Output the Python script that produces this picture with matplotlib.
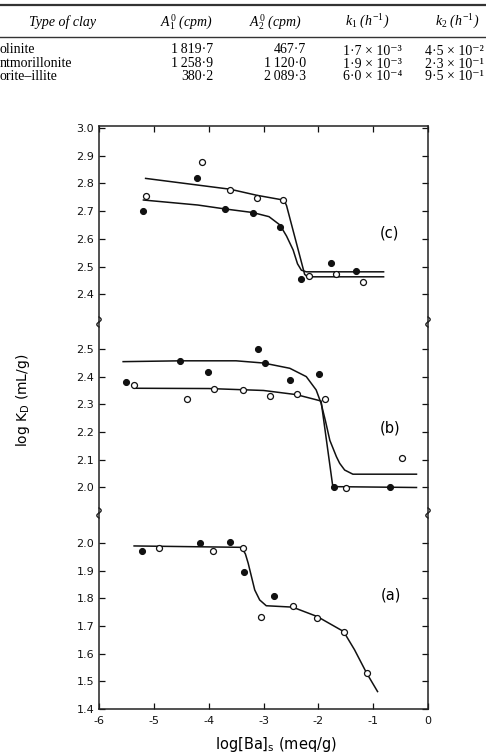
import matplotlib
matplotlib.use("Agg")
import matplotlib.pyplot as plt
import numpy as np
from matplotlib.lines import Line2D

plt.rcParams['axes.unicode_minus'] = False
plt.rcParams['mathtext.fontset'] = 'custom'
plt.rcParams['mathtext.rm'] = 'Liberation Serif'
plt.rcParams['mathtext.it'] = 'Liberation Serif:italic'
plt.rcParams['mathtext.sf'] = 'DejaVu Sans'

# ---------------- table data (top, partially cropped) ----------------
clay_names = ["olinite", "ntmorillonite", "orite\u2013illite"]
A1_values = ["1\u2009819\u00b77", "1\u2009258\u00b79", "380\u00b72"]
A2_values = ["467\u00b77", "1\u2009120\u00b70", "2\u2009089\u00b73"]
k1_values = ["1\u00b77 \u00d7 10\u207b\u00b3", "1\u00b79 \u00d7 10\u207b\u00b3", "6\u00b70 \u00d7 10\u207b\u2074"]
k2_values = ["4\u00b75 \u00d7 10\u207b\u00b2", "2\u00b73 \u00d7 10\u207b\u00b9", "9\u00b75 \u00d7 10\u207b\u00b9"]
headers = ["Type of clay", r"$A^0_{\mathit{1}}$ (cpm)", r"$A^0_{\mathit{2}}$ (cpm)",
           r"$k_{\mathit{1}}$ ($h^{-\mathit{1}}$)", r"$k_{\mathit{2}}$ ($h^{-\mathit{1}}$)"]

# ---------------- panel (c) ----------------
c_open_x = [-5.15, -4.13, -3.61, -3.12, -2.64, -2.17, -1.68, -1.18]
c_open_y = [2.755, 2.876, 2.776, 2.746, 2.740, 2.466, 2.472, 2.444]
c_fill_x = [-5.19, -4.22, -3.71, -3.20, -2.70, -2.31, -1.76, -1.31]
c_fill_y = [2.700, 2.818, 2.708, 2.692, 2.644, 2.455, 2.513, 2.483]
c_open_fit_x = [-5.15, -3.61, -3.12, -2.64, -2.61, -2.58, -2.25, -2.20, -0.81]
c_open_fit_y = [2.818, 2.779, 2.757, 2.740, 2.733, 2.720, 2.472, 2.463, 2.463]
c_fill_fit_x = [-5.19, -4.20, -3.71, -3.20, -2.90, -2.70, -2.58, -2.46, -2.38, -2.31, -2.22, -0.81]
c_fill_fit_y = [2.740, 2.722, 2.708, 2.695, 2.680, 2.650, 2.610, 2.560, 2.510, 2.487, 2.481, 2.481]

# ---------------- panel (b) ----------------
b_open_x = [-5.36, -4.40, -3.90, -3.38, -2.89, -2.38, -1.88, -1.49, -0.47]
b_open_y = [2.368, 2.320, 2.356, 2.350, 2.330, 2.339, 2.320, 1.997, 2.108]
b_fill_x = [-5.51, -4.52, -4.01, -3.10, -2.98, -2.51, -1.99, -1.72, -0.69]
b_fill_y = [2.382, 2.458, 2.417, 2.500, 2.448, 2.388, 2.410, 2.001, 2.003]
b_fit1_x = [-5.56, -4.50, -3.50, -3.00, -2.52, -2.22, -2.04, -1.95, -1.87, -1.79, -1.67, -1.61, -1.52, -1.37, -0.21]
b_fit1_y = [2.454, 2.457, 2.457, 2.449, 2.430, 2.400, 2.352, 2.304, 2.240, 2.170, 2.111, 2.087, 2.063, 2.048, 2.048]
b_fit2_x = [-5.36, -4.00, -3.00, -2.40, -1.95, -1.74, -1.68, -0.21]
b_fit2_y = [2.358, 2.357, 2.350, 2.335, 2.312, 2.009, 2.003, 2.000]

# ---------------- panel (a) ----------------
a_open_x = [-4.91, -3.92, -3.38, -3.04, -2.47, -2.02, -1.54, -1.12]
a_open_y = [1.983, 1.969, 1.981, 1.733, 1.773, 1.729, 1.678, 1.530]
a_fill_x = [-5.21, -4.15, -3.61, -3.35, -2.81]
a_fill_y = [1.971, 1.999, 2.004, 1.896, 1.808]
a_fit_x = [-5.36, -3.40, -3.33, -3.28, -3.16, -3.07, -2.95, -2.47, -2.02, -1.54, -1.34, -1.12, -0.92]
a_fit_y = [1.989, 1.984, 1.960, 1.927, 1.830, 1.794, 1.773, 1.768, 1.734, 1.680, 1.614, 1.530, 1.463]

x_ticks = [-6, -5, -4, -3, -2, -1, 0]
x_ticklabels = ["-6", "-5", "-4", "-3", "-2", "-1", "0"]

W, H = 486, 753
fig = plt.figure(figsize=(W / 100, H / 100), dpi=100)

def fx(px):
    return px / W

def fy(py):
    return 1 - py / H

# ---------------- draw table ----------------
serif = ['Liberation Serif', 'DejaVu Serif']
tfs = 10
fig.add_artist(Line2D([0, 1], [fy(4.5), fy(4.5)], color='#333333', lw=1.6))
fig.add_artist(Line2D([0, 1], [fy(37), fy(37)], color='#333333', lw=1.0))
hdr_x = [62, 186, 275, 367, 457]
for hx, h in zip(hdr_x, headers):
    fig.text(fx(hx), fy(22), h, ha='center', va='center', family=serif,
             style='italic', fontsize=tfs)

base_y = 80.5  # baseline of last table row
ls_plain = 1.07
ls_sup = 0.98
fig.text(fx(0), fy(base_y), "\n".join(clay_names), ha='left', va='baseline',
         multialignment='left', family=serif, fontsize=tfs, linespacing=ls_plain)
fig.text(fx(213), fy(base_y), "\n".join(A1_values), ha='right', va='baseline',
         multialignment='right', family=serif, fontsize=tfs, linespacing=ls_plain)
fig.text(fx(306), fy(base_y), "\n".join(A2_values), ha='right', va='baseline',
         multialignment='right', family=serif, fontsize=tfs, linespacing=ls_plain)
fig.text(fx(343), fy(base_y), "\n".join(k1_values), ha='left', va='baseline',
         multialignment='left', family=serif, fontsize=tfs, linespacing=ls_sup)
fig.text(fx(425), fy(base_y), "\n".join(k2_values), ha='left', va='baseline',
         multialignment='left', family=serif, fontsize=tfs, linespacing=ls_sup)

# ---------------- axes ----------------
left, right = 99, 428
ax_c = fig.add_axes([fx(left), fy(322), fx(right - left), (322 - 126) / H])
ax_b = fig.add_axes([fx(left), fy(513), fx(right - left), (513 - 322) / H])
ax_a = fig.add_axes([fx(left), fy(709), fx(right - left), (709 - 513) / H])

ax_c.set_ylim(2.300, 3.007)
ax_b.set_ylim(1.908, 2.597)
ax_a.set_ylim(1.400, 2.108)

yt = {ax_c: [2.4, 2.5, 2.6, 2.7, 2.8, 2.9, 3.0],
      ax_b: [2.0, 2.1, 2.2, 2.3, 2.4, 2.5],
      ax_a: [1.4, 1.5, 1.6, 1.7, 1.8, 1.9, 2.0]}

for ax in (ax_c, ax_b, ax_a):
    ax.set_xlim(-6, 0)
    ax.set_yticks(yt[ax])
    ax.set_yticklabels(["%.1f" % v for v in yt[ax]])
    ax.tick_params(axis='both', direction='in', length=4, width=0.9,
                   labelsize=8, right=True, colors='#111111')
    for s in ax.spines.values():
        s.set_linewidth(1.1)
        s.set_color('#222222')
    ax.patch.set_alpha(0)

ax_c.spines['bottom'].set_visible(False)
ax_b.spines['top'].set_visible(False)
ax_b.spines['bottom'].set_visible(False)
ax_a.spines['top'].set_visible(False)

ax_c.set_xticks(x_ticks)
ax_c.tick_params(axis='x', top=True, bottom=False, labelbottom=False)
ax_b.set_xticks([])
ax_a.set_xticks(x_ticks)
ax_a.set_xticklabels(x_ticklabels)
ax_a.tick_params(axis='x', top=False, bottom=True, pad=5)

ms = 4.3
def draw(ax, ox, oy, fxs, fys, fits):
    for (lx, ly) in fits:
        ax.plot(lx, ly, color='#111111', lw=1.1, solid_joinstyle='round')
    ax.plot(fxs, fys, 'o', ms=ms, mfc='#111111', mec='#111111', mew=0.8, ls='none')
    ax.plot(ox, oy, 'o', ms=ms, mfc='white', mec='#111111', mew=0.9, ls='none')

draw(ax_c, c_open_x, c_open_y, c_fill_x, c_fill_y,
     [(c_open_fit_x, c_open_fit_y), (c_fill_fit_x, c_fill_fit_y)])
draw(ax_b, b_open_x, b_open_y, b_fill_x, b_fill_y,
     [(b_fit1_x, b_fit1_y), (b_fit2_x, b_fit2_y)])
draw(ax_a, a_open_x, a_open_y, a_fill_x, a_fill_y,
     [(a_fit_x, a_fit_y)])

lab_font = dict(fontsize=10.5, family='DejaVu Sans')
ax_c.text(-0.70, 2.62, "(c)", ha='center', va='center', **lab_font)
ax_b.text(-0.69, 2.213, "(b)", ha='center', va='center', **lab_font)
ax_a.text(-0.67, 1.81, "(a)", ha='center', va='center', **lab_font)

# axis break squiggles on both spines
t = np.linspace(0, 1, 30)
for py in (322, 513):
    for px in (left, right):
        xs = fx(px + 2.2 * np.sin(2 * np.pi * t))
        ys = fy(py - 5 + 10 * t)
        fig.add_artist(Line2D(xs, ys, color='#222222', lw=1.0))

fig.text(fx(276), fy(745), r"log[Ba]$_\mathsf{s}$ (meq/g)", ha='center', va='center',
         fontsize=10.5, family='DejaVu Sans')
fig.text(fx(23), fy(400), r"log K$_\mathsf{D}$ (mL/g)", ha='center', va='center',
         rotation=90, fontsize=10, family='DejaVu Sans')

fig.savefig("out.png", dpi=100)
